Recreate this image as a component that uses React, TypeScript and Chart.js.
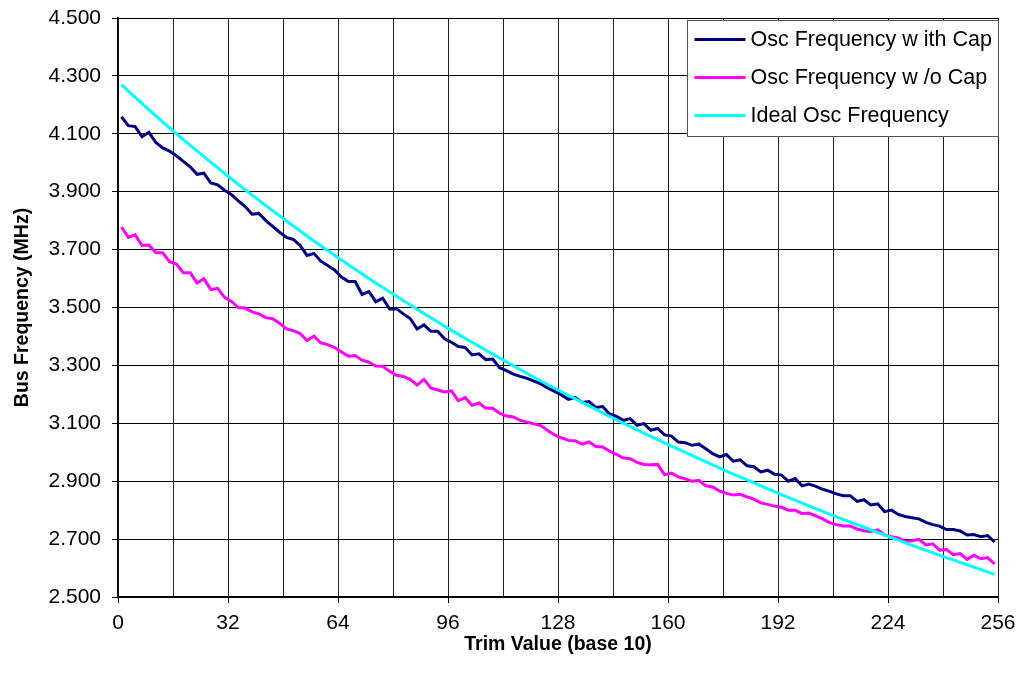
import { useEffect, useRef } from "react";
import { Chart, registerables } from "chart.js";

Chart.register(...registerables);

const FONT = '"Liberation Sans", Arial, sans-serif';

// Trim settings sampled every other step for the measured curves
const measuredTrim: number[] = Array.from({ length: 128 }, (_, i) => 1 + 2 * i);

const freqWithCap: number[] = [
  4.159, 4.128, 4.125, 4.090, 4.105, 4.070, 4.051, 4.040, 4.024, 4.005,
  3.986, 3.960, 3.964, 3.930, 3.924, 3.905, 3.890, 3.868, 3.849, 3.822,
  3.825, 3.800, 3.780, 3.760, 3.742, 3.735, 3.714, 3.680, 3.687, 3.660,
  3.645, 3.630, 3.605, 3.590, 3.590, 3.545, 3.555, 3.520, 3.532, 3.495,
  3.496, 3.478, 3.462, 3.426, 3.440, 3.418, 3.418, 3.392, 3.380, 3.365,
  3.362, 3.336, 3.340, 3.320, 3.322, 3.292, 3.282, 3.270, 3.262, 3.255,
  3.246, 3.236, 3.222, 3.210, 3.198, 3.183, 3.189, 3.172, 3.175, 3.155,
  3.158, 3.132, 3.124, 3.110, 3.116, 3.093, 3.099, 3.076, 3.082, 3.060,
  3.056, 3.035, 3.033, 3.024, 3.028, 3.012, 2.995, 2.984, 2.992, 2.969,
  2.974, 2.953, 2.950, 2.932, 2.938, 2.924, 2.921, 2.900, 2.909, 2.884,
  2.890, 2.882, 2.872, 2.865, 2.856, 2.850, 2.850, 2.830, 2.836, 2.818,
  2.822, 2.795, 2.800, 2.785, 2.778, 2.774, 2.770, 2.758, 2.750, 2.745,
  2.733, 2.733, 2.728, 2.714, 2.716, 2.708, 2.712, 2.690,
];

const freqWithoutCap: number[] = [
  3.778, 3.742, 3.751, 3.714, 3.716, 3.690, 3.689, 3.658, 3.650, 3.620,
  3.620, 3.585, 3.599, 3.562, 3.566, 3.535, 3.521, 3.500, 3.498, 3.485,
  3.478, 3.465, 3.461, 3.446, 3.426, 3.420, 3.410, 3.386, 3.401, 3.378,
  3.372, 3.362, 3.346, 3.332, 3.334, 3.318, 3.311, 3.298, 3.297, 3.280,
  3.266, 3.262, 3.252, 3.232, 3.252, 3.222, 3.215, 3.208, 3.212, 3.178,
  3.189, 3.162, 3.170, 3.152, 3.152, 3.135, 3.125, 3.122, 3.110, 3.104,
  3.098, 3.092, 3.075, 3.060, 3.050, 3.041, 3.040, 3.028, 3.036, 3.020,
  3.018, 3.004, 2.993, 2.980, 2.978, 2.965, 2.958, 2.957, 2.958, 2.922,
  2.928, 2.915, 2.908, 2.900, 2.903, 2.884, 2.880, 2.866, 2.858, 2.852,
  2.855, 2.846, 2.838, 2.825, 2.820, 2.814, 2.810, 2.800, 2.800, 2.788,
  2.790, 2.780, 2.770, 2.757, 2.750, 2.745, 2.745, 2.735, 2.729, 2.726,
  2.732, 2.714, 2.708, 2.704, 2.692, 2.694, 2.699, 2.680, 2.684, 2.662,
  2.664, 2.646, 2.650, 2.630, 2.644, 2.632, 2.636, 2.614,
];

const idealTrim: number[] = [
  1, 9, 17, 25, 33, 41, 49, 57, 65, 73, 81, 89, 97, 105, 113, 121, 129,
  137, 145, 153, 161, 169, 177, 185, 193, 201, 209, 217, 225, 233, 241, 249, 255,
];

const idealFreq: number[] = [
  4.270, 4.183, 4.100, 4.021, 3.944, 3.870, 3.799, 3.730, 3.664, 3.600,
  3.539, 3.479, 3.421, 3.366, 3.312, 3.259, 3.209, 3.160, 3.112, 3.066,
  3.021, 2.978, 2.935, 2.894, 2.854, 2.815, 2.777, 2.741, 2.705, 2.670,
  2.636, 2.603, 2.578,
];

const seriesLabels = [
  "Osc Frequency w ith Cap",
  "Osc Frequency w /o Cap",
  "Ideal Osc Frequency",
];
const seriesColors = ["#000080", "#FF00FF", "#00FFFF"];

const xTickStep = 16;
const xLabelStep = 32;

const toPoints = (xs: number[], ys: number[]) => ys.map((y, i) => ({ x: xs[i], y }));

// Boxed legend drawn inside the top-right corner of the plot area
const boxedLegend = {
  id: "boxedLegend",
  afterDraw(chart: any) {
    const { ctx, chartArea } = chart;
    const w = 311;
    const h = 116;
    const x = Math.round(chartArea.right - w) + 0.5;
    const y = Math.round(chartArea.top + 2) + 0.5;
    ctx.save();
    ctx.fillStyle = "#ffffff";
    ctx.fillRect(x, y, w, h);
    ctx.strokeStyle = "#555555";
    ctx.lineWidth = 1;
    ctx.strokeRect(x, y, w, h);
    ctx.font = `21.5px ${FONT}`;
    ctx.textBaseline = "middle";
    ctx.textAlign = "left";
    seriesLabels.forEach((label, i) => {
      const rowY = y + 19 + i * 38;
      ctx.strokeStyle = seriesColors[i];
      ctx.lineWidth = 3;
      ctx.beginPath();
      ctx.moveTo(x + 7, rowY);
      ctx.lineTo(x + 58, rowY);
      ctx.stroke();
      ctx.fillStyle = "#000000";
      ctx.fillText(label, x + 63, rowY + 1);
    });
    ctx.restore();
  },
};

export default function App() {
  const canvasRef = useRef<HTMLCanvasElement | null>(null);

  useEffect(() => {
    if (!canvasRef.current) return;
    const chart = new Chart(canvasRef.current, {
      type: "line",
      data: {
        datasets: [
          {
            label: seriesLabels[0],
            data: toPoints(measuredTrim, freqWithCap),
            borderColor: seriesColors[0],
            backgroundColor: seriesColors[0],
            borderWidth: 3,
            pointRadius: 0,
            tension: 0,
            order: 2,
          },
          {
            label: seriesLabels[1],
            data: toPoints(measuredTrim, freqWithoutCap),
            borderColor: seriesColors[1],
            backgroundColor: seriesColors[1],
            borderWidth: 3,
            pointRadius: 0,
            tension: 0,
            order: 1,
          },
          {
            label: seriesLabels[2],
            data: toPoints(idealTrim, idealFreq),
            borderColor: seriesColors[2],
            backgroundColor: seriesColors[2],
            borderWidth: 3,
            pointRadius: 0,
            tension: 0,
            order: 0,
          },
        ],
      },
      options: {
        responsive: false,
        animation: false,
        layout: { padding: { left: 0, top: 18, right: 34, bottom: 0 } },
        plugins: {
          legend: { display: false },
          tooltip: { enabled: false },
        },
        scales: {
          x: {
            type: "linear",
            min: 0,
            max: 256,
            afterFit: (scale: any) => {
              scale.height = 86;
            },
            ticks: {
              stepSize: xTickStep,
              autoSkip: false,
              maxRotation: 0,
              padding: 8,
              color: "#000",
              font: { family: FONT, size: 21 },
              callback: (v: any) => (Number(v) % xLabelStep === 0 ? String(v) : ""),
            },
            grid: {
              color: "#222",
              lineWidth: 1,
              tickLength: 6,
              tickColor: (ctx: any) =>
                ctx.tick && ctx.tick.value % xLabelStep === 0 ? "#000" : "rgba(0,0,0,0)",
            },
            border: { display: true, color: "#000", width: 1.5 },
            title: {
              display: true,
              text: "Trim Value (base 10)",
              color: "#000",
              font: { family: FONT, size: 19.5, weight: "bold" },
              padding: { top: 0, bottom: 27 },
            },
          },
          y: {
            type: "linear",
            min: 2.5,
            max: 4.5,
            afterFit: (scale: any) => {
              scale.width = 118;
              // keep the end labels from pushing the plot area inward
              scale.paddingTop = 0;
              scale.paddingBottom = 0;
            },
            ticks: {
              stepSize: 0.2,
              padding: 11,
              color: "#000",
              font: { family: FONT, size: 21 },
              callback: (v: any) => Number(v).toFixed(3),
            },
            grid: {
              color: "#000",
              lineWidth: 1,
              tickLength: 6,
              tickColor: "#000",
            },
            border: { display: true, color: "#000", width: 1.5 },
            title: {
              display: true,
              text: "Bus Frequency (MHz)",
              color: "#000",
              font: { family: FONT, size: 19.5, weight: "bold" },
              padding: { top: 11, bottom: 0 },
            },
          },
        },
      },
      plugins: [boxedLegend],
    });
    return () => chart.destroy();
  }, []);

  return (
    <div style={{ position: "fixed", left: 0, top: 0, width: 1032, height: 683, background: "#fff" }}>
      <canvas ref={canvasRef} width={1032} height={683} />
    </div>
  );
}
